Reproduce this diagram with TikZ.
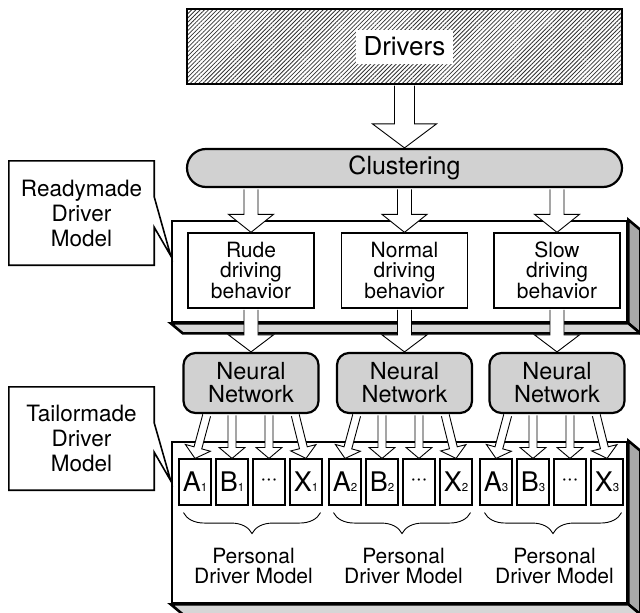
\documentclass[tikz,border=0pt]{standalone}
\usepackage{fontspec}
\setmainfont{TeX Gyre Heros}
\usetikzlibrary{calc,patterns.meta,decorations.pathreplacing}
\definecolor{nngray}{gray}{0.82}
\definecolor{sidegray}{gray}{0.66}
\definecolor{botgray}{gray}{0.84}
\newcommand\cellsub[1]{{\fontsize{11.5}{11.5}\selectfont #1}}
\newcommand\blockarrow[5]{%
  \coordinate (ba-s) at ($(#1)!1.2pt!(#2)$);
  \coordinate (ba-h) at ($(#2)!#5pt!(#1)$);
  \filldraw[barrow] ($(ba-s)!#3pt!90:(#2)$) -- ($(ba-h)!#3pt!90:(#2)$) -- ($(ba-h)!#4pt!90:(#2)$) -- (#2) -- ($(ba-h)!#4pt!-90:(#2)$) -- ($(ba-h)!#3pt!-90:(#2)$) -- ($(ba-s)!#3pt!-90:(#2)$);}
\begin{document}
\begin{tikzpicture}[x=1pt,y=-1pt,
  every node/.style={inner sep=0pt},
  drvbox/.style={draw, line width=2.2pt, pattern={Lines[angle=45,distance=3pt,line width=0.8pt]}, pattern color=black!80, minimum width=435, minimum height=75},
  drvlabel/.style={fill=white, minimum width=97, minimum height=34, font=\fontsize{26}{28}\selectfont},
  clubox/.style={draw, line width=2.2pt, fill=nngray, rounded corners=19, minimum width=435, minimum height=38, font=\fontsize{25}{27}\selectfont},
  front/.style={draw, line width=2.6pt, fill=white},
  face/.style={draw, line width=2.6pt, line join=miter},
  innerbox/.style={draw, line width=1.3pt, fill=white, minimum width=126, minimum height=75, align=center, font=\fontsize{21}{19.5}\selectfont},
  nnbox/.style={draw, line width=2.2pt, fill=nngray, rounded corners=12, minimum width=135, minimum height=60, align=center, font=\fontsize{23.5}{23}\selectfont},
  cell/.style={draw, line width=1.1pt, fill=white, minimum width=32, minimum height=46, font=\fontsize{27}{27}\selectfont},
  callout/.style={minimum width=145, minimum height=104, align=center, font=\fontsize{22.5}{25}\selectfont},
  calloutline/.style={draw, line width=1.6pt, line join=miter},
  barrow/.style={draw, line width=0.9pt, fill=white, line join=miter},
  pdm/.style={align=center, font=\fontsize{21}{20}\selectfont},
  brc/.style={draw, line width=0.9pt, decorate, decoration={brace, amplitude=21pt}}
]
\useasboundingbox (0,0) rectangle (640,613);

% Drivers and clustering
\node[drvbox] (drv) at (404.5,46.5) {};
\node[drvlabel] (drvt) at (drv.center) {Drivers};
\node[clubox] (clu) at (404.5,168) {Clustering};
\blockarrow{drv.south}{clu.north}{10}{32}{24}

% Readymade 3D box
\node[front, minimum width=455, minimum height=101] (rm) at (399.5,271.5) {};
\draw[face, fill=sidegray] (rm.north east) -- ++(12,10) -- ($(rm.south east)+(12,10)$) -- (rm.south east) -- cycle;
\draw[face, fill=botgray] (rm.south west) -- ++(12,10) -- ($(rm.south east)+(12,10)$) -- (rm.south east) -- cycle;

\node[innerbox] (rude) at (251,270.5) {Rude\\driving\\behavior};
\node[innerbox] (normal) at (404.5,270.5) {Normal\\driving\\behavior};
\node[innerbox] (slow) at (557,270.5) {Slow\\driving\\behavior};

\node[nnbox] (nn1) at (251,383) {Neural\\Network};
\node[nnbox] (nn2) at (404.5,383) {Neural\\Network};
\node[nnbox] (nn3) at (557,383) {Neural\\Network};

\foreach \b/\n in {rude/nn1,normal/nn2,slow/nn3} {
  \path (clu.south -| \b.north) coordinate (cs-\b);
  \blockarrow{cs-\b}{\b.north}{7}{22.5}{18}
  \blockarrow{\b.south}{\n.north}{7}{22.5}{17}
}

% Tailormade 3D box
\node[front, minimum width=455, minimum height=161] (tm) at (399.5,522.5) {};
\draw[face, fill=sidegray] (tm.north east) -- ++(12,10) -- ($(tm.south east)+(12,10)$) -- (tm.south east) -- cycle;
\draw[face, fill=botgray] (tm.south west) -- ++(12,10) -- ($(tm.south east)+(12,10)$) -- (tm.south east) -- cycle;

\foreach \g/\s in {1/195,2/345,3/496} {
  \node[cell] (A\g) at (\s,482) {A\cellsub{\g}};
  \node[cell] (B\g) at (\s+37,482) {B\cellsub{\g}};
  \node[cell] (C\g) at (\s+74,482) {\fontsize{22}{22}\selectfont\textperiodcentered\kern-0.5pt\textperiodcentered\kern-0.5pt\textperiodcentered};
  \node[cell] (X\g) at (\s+111,482) {X\cellsub{\g}};
  \path (nn\g.south -| A\g.north) ++(12,0) coordinate (sA\g);
  \path (nn\g.south -| B\g.north) coordinate (sB\g);
  \path (nn\g.south -| C\g.north) coordinate (sC\g);
  \path (nn\g.south -| X\g.north) ++(-11,0) coordinate (sX\g);
  \blockarrow{sA\g}{A\g.north}{4}{13}{11}
  \blockarrow{sB\g}{B\g.north}{4}{13}{11}
  \blockarrow{sC\g}{C\g.north}{4}{13}{11}
  \blockarrow{sX\g}{X\g.north}{4}{13}{11}
  \draw[brc] ([shift={(-2,7)}]X\g.south east) -- ([shift={(5,7)}]A\g.south west);
  \node[pdm] (pdm\g) at ($(A\g.south west)!0.5!(X\g.south east)+(3,60)$) {Personal\\Driver Model};
}

% Callouts
\node[callout] (rmc) at (81.5,213) {Readymade\\Driver\\Model};
\coordinate (rmtip) at ($(rm.north west)+(0,36)$);
\draw[calloutline] (rmc.north west) -- (rmc.north east) -- ($(rmc.north east)+(0,36)$) -- (rmtip) -- ($(rmc.south east)+(0,-38)$) -- (rmc.south east) -- (rmc.south west) -- cycle;

\node[callout, minimum height=103] (tmc) at (81.5,438.5) {Tailormade\\Driver\\Model};
\coordinate (tmtip) at ($(tm.north west)+(0,40)$);
\draw[calloutline] (tmc.north west) -- (tmc.north east) -- ($(tmc.north east)+(0,36)$) -- (tmtip) -- ($(tmc.south east)+(0,-38)$) -- (tmc.south east) -- (tmc.south west) -- cycle;
\end{tikzpicture}
\end{document}
